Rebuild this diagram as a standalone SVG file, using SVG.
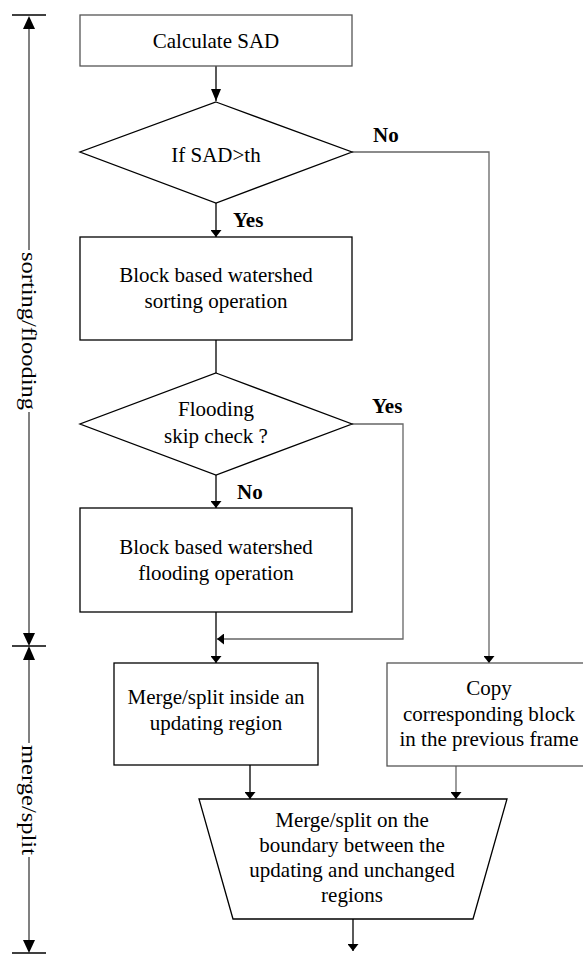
<svg xmlns="http://www.w3.org/2000/svg" width="583" height="955" viewBox="0 0 583 955">
  <style>
    .box { fill: #fff; stroke: #000; stroke-width: 1.3; }
    .box.grey { stroke: #555; }
    .t { font-family: "Liberation Serif", "Times New Roman", serif; font-size: 21px; fill: #000; text-anchor: middle; }
    .lbl { font-family: "Liberation Serif", "Times New Roman", serif; font-size: 21px; font-weight: bold; fill: #000; }
    .ln { fill: none; stroke: #000; stroke-width: 1.3; }
    .ln.grey { stroke: #666; }
    .axis { fill: none; stroke: #808080; stroke-width: 2; }
    .tick { fill: none; stroke: #000; stroke-width: 1.3; }
    .rot { font-family: "Liberation Serif", "Times New Roman", serif; font-size: 22px; fill: #000; text-anchor: middle; }
  </style>
  <defs>
    <marker id="arrowBig" markerWidth="12" markerHeight="10" refX="12" refY="5" orient="auto" markerUnits="userSpaceOnUse">
      <path d="M0,0 L12,5 L0,10 Z" fill="#000"/>
    </marker>
    <marker id="arrow" markerWidth="7" markerHeight="11" refX="7" refY="5.5" orient="auto" markerUnits="userSpaceOnUse">
      <path d="M0,0 L7,5.5 L0,11 Z" fill="#000"/>
    </marker>
  </defs>

  <!-- phase axis on the left -->
  <g id="axis">
    <line class="tick" x1="12" y1="15" x2="46" y2="15"/>
    <line class="tick" x1="12" y1="646" x2="46" y2="646"/>
    <line class="tick" x1="12" y1="953" x2="46" y2="953"/>
    <line class="axis" x1="29" y1="28" x2="29" y2="250"/>
    <line class="axis" x1="29" y1="412" x2="29" y2="633"/>
    <line class="axis" x1="29" y1="660" x2="29" y2="743"/>
    <line class="axis" x1="29" y1="857" x2="29" y2="940"/>
    <path d="M29,16 L23,29 L35,29 Z" fill="#000"/>
    <path d="M29,646 L23,633 L35,633 Z" fill="#000"/>
    <path d="M29,646 L23,660 L35,660 Z" fill="#000"/>
    <path d="M29,953 L23,940 L35,940 Z" fill="#000"/>
    <text class="rot" transform="translate(29,331) rotate(90)" y="7" textLength="158" lengthAdjust="spacingAndGlyphs">sorting/flooding</text>
    <text class="rot" transform="translate(29,800) rotate(90)" y="7" textLength="110" lengthAdjust="spacingAndGlyphs">merge/split</text>
  </g>

  <!-- connectors -->
  <g id="connectors">
    <line class="ln" x1="216" y1="66" x2="216" y2="101" marker-end="url(#arrowBig)"/>
    <line class="ln" x1="216" y1="203" x2="216" y2="237" marker-end="url(#arrow)"/>
    <polyline class="ln grey" points="352,152 489,152 489,663" marker-end="url(#arrow)"/>
    <line class="ln" x1="216" y1="340" x2="216" y2="373"/>
    <line class="ln" x1="216" y1="475" x2="216" y2="508" marker-end="url(#arrow)"/>
    <polyline class="ln grey" points="352,424 403,424 403,639 217,639" marker-end="url(#arrow)"/>
    <line class="ln" x1="216" y1="612" x2="216" y2="663" marker-end="url(#arrow)"/>
    <line class="ln" x1="250" y1="765" x2="250" y2="799" marker-end="url(#arrow)"/>
    <line class="ln grey" x1="456" y1="766" x2="456" y2="799" marker-end="url(#arrow)"/>
    <line class="ln" x1="353" y1="919" x2="353" y2="951" marker-end="url(#arrow)"/>
    <text class="lbl" x="233" y="227">Yes</text>
    <text class="lbl" x="373" y="142">No</text>
    <text class="lbl" x="372" y="413">Yes</text>
    <text class="lbl" x="237" y="499">No</text>
  </g>

  <g id="calc-sad">
    <rect class="box grey" x="80" y="15" width="272" height="51"/>
    <text class="t" x="216" y="48">Calculate SAD</text>
  </g>

  <g id="sad-check">
    <polygon class="box" points="216,102 352,152 216,203 80,152"/>
    <text class="t" x="216" y="162">If SAD&gt;th</text>
  </g>

  <g id="sorting">
    <rect class="box" x="80" y="237" width="272" height="103"/>
    <text class="t" x="216" y="282">Block based watershed</text>
    <text class="t" x="216" y="308">sorting operation</text>
  </g>

  <g id="skip-check">
    <polygon class="box" points="216,373 352,424 216,475 80,424"/>
    <text class="t" x="216" y="416">Flooding</text>
    <text class="t" x="216" y="443">skip check ?</text>
  </g>

  <g id="flooding">
    <rect class="box" x="80" y="508" width="272" height="104"/>
    <text class="t" x="216" y="554">Block based watershed</text>
    <text class="t" x="216" y="580">flooding operation</text>
  </g>

  <g id="merge-inside">
    <rect class="box" x="114" y="663" width="204" height="102"/>
    <text class="t" x="216" y="704">Merge/split inside an</text>
    <text class="t" x="216" y="730">updating region</text>
  </g>

  <g id="copy-block">
    <rect class="box grey" x="387" y="663" width="204" height="103"/>
    <text class="t" x="489" y="695">Copy</text>
    <text class="t" x="489" y="721">corresponding block</text>
    <text class="t" x="489" y="746">in the previous frame</text>
  </g>

  <g id="merge-boundary">
    <polygon class="box" points="199,799 507,799 473,919 233,919"/>
    <text class="t" x="352" y="827">Merge/split on the</text>
    <text class="t" x="352" y="852">boundary between the</text>
    <text class="t" x="352" y="877">updating and unchanged</text>
    <text class="t" x="352" y="902">regions</text>
  </g>
</svg>
